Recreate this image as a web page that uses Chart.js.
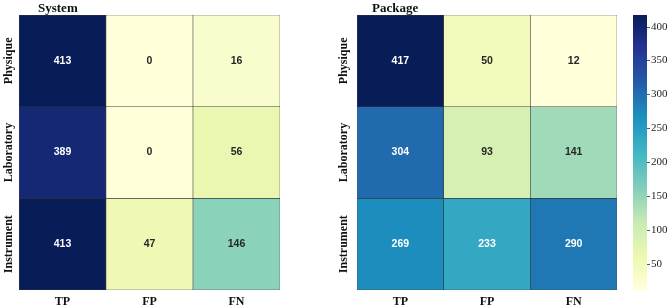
<!DOCTYPE html>
<html>
<head>
<meta charset="utf-8">
<script src="https://cdn.jsdelivr.net/npm/chart.js@4"></script>
<style>
  body { margin: 0; background: #fff; }
  #wrap { position: relative; width: 669px; height: 308px; }
  canvas { position: absolute; top: 0; }
</style>
</head>
<body>
<div id="wrap">
  <canvas id="systemChart" width="300" height="308" style="left:0"></canvas>
  <canvas id="packageChart" width="300" height="308" style="left:330px"></canvas>
  <canvas id="colorbar" width="49" height="308" style="left:620px"></canvas>
</div>
<script>
// categories
var rowLabels = ['Physique', 'Laboratory', 'Instrument'];
var colLabels = ['TP', 'FP', 'FN'];

// counts, one row per category
var systemPhysique = [413, 0, 16];
var systemLaboratory = [389, 0, 56];
var systemInstrument = [413, 47, 146];

var packagePhysique = [417, 50, 12];
var packageLaboratory = [304, 93, 141];
var packageInstrument = [269, 233, 290];

var colorbarTicks = [50, 100, 150, 200, 250, 300, 350, 400];

// YlGnBu
var ylgnbu = ['#ffffd9', '#edf8b1', '#c7e9b4', '#7fcdbb', '#41b6c4', '#1d91c0', '#225ea8', '#253494', '#081d58'];

function hexToRgb(h) {
  return [parseInt(h.substr(1, 2), 16), parseInt(h.substr(3, 2), 16), parseInt(h.substr(5, 2), 16)];
}

function cmapRgb(t) {
  t = Math.max(0, Math.min(1, t));
  var pos = t * (ylgnbu.length - 1);
  var i = Math.min(Math.floor(pos), ylgnbu.length - 2);
  var f = pos - i;
  var a = hexToRgb(ylgnbu[i]), b = hexToRgb(ylgnbu[i + 1]);
  return [0, 1, 2].map(function(k) { return Math.round(a[k] + (b[k] - a[k]) * f); });
}

function cmap(t) {
  var c = cmapRgb(t);
  return 'rgb(' + c[0] + ',' + c[1] + ',' + c[2] + ')';
}

// same rule seaborn uses to pick the annotation colour
function textColor(t) {
  var c = cmapRgb(t).map(function(v) {
    v = v / 255;
    return v <= 0.03928 ? v / 12.92 : Math.pow((v + 0.055) / 1.055, 2.4);
  });
  var lum = 0.2126 * c[0] + 0.7152 * c[1] + 0.0722 * c[2];
  return lum > 0.408 ? 'rgb(38,38,38)' : '#ffffff';
}

function makeHeatmap(canvasId, title, values, opts) {
  var flat = [].concat.apply([], values);
  var vmin = Math.min.apply(null, flat);
  var vmax = Math.max.apply(null, flat);
  var norm = function(v) { return (v - vmin) / (vmax - vmin); };

  var datasets = rowLabels.map(function(r, i) {
    return {
      label: r,
      data: values[i].map(function() { return [i, i + 1]; }),
      backgroundColor: values[i].map(function(v) { return cmap(norm(v)); }),
      borderColor: 'rgba(40,40,40,0.85)',
      borderWidth: 0.6,
      borderSkipped: false,
      barPercentage: 1,
      categoryPercentage: 1,
      grouped: false
    };
  });

  var labelsPlugin = {
    id: 'heatLabels',
    afterDatasetsDraw: function(chart) {
      var ctx = chart.ctx;
      var xs = chart.scales.x, ys = chart.scales.y;
      ctx.save();
      // cell values
      ctx.font = 'bold 10.5px "Liberation Sans", Arial, sans-serif';
      ctx.textAlign = 'center';
      ctx.textBaseline = 'middle';
      values.forEach(function(row, i) {
        row.forEach(function(v, j) {
          ctx.fillStyle = textColor(norm(v));
          ctx.fillText(String(v), xs.getPixelForValue(j), ys.getPixelForValue(i + 0.5));
        });
      });
      // x labels
      ctx.fillStyle = '#111';
      ctx.font = 'bold 12px "Liberation Serif", "Times New Roman", serif';
      colLabels.forEach(function(c, j) {
        ctx.fillText(c, xs.getPixelForValue(j), 302);
      });
      // y labels, rotated
      rowLabels.forEach(function(r, i) {
        ctx.save();
        ctx.translate(opts.ylabelX, ys.getPixelForValue(i + 0.5));
        ctx.rotate(-Math.PI / 2);
        ctx.fillText(r, 0, 0);
        ctx.restore();
      });
      // title
      ctx.font = 'bold 13px "Liberation Serif", "Times New Roman", serif';
      ctx.textAlign = 'left';
      ctx.textBaseline = 'alphabetic';
      ctx.fillText(title, opts.titleX, 12);
      ctx.restore();
    }
  };

  return new Chart(document.getElementById(canvasId).getContext('2d'), {
    type: 'bar',
    data: { labels: colLabels, datasets: datasets },
    options: {
      responsive: false,
      animation: false,
      layout: { padding: opts.padding },
      plugins: { legend: { display: false }, tooltip: { enabled: false } },
      scales: {
        x: { type: 'category', display: false, offset: true, grid: { display: false } },
        y: { type: 'linear', min: 0, max: 3, reverse: true, display: false }
      }
    },
    plugins: [labelsPlugin]
  });
}

makeHeatmap('systemChart', 'System',
  [systemPhysique, systemLaboratory, systemInstrument],
  { padding: { left: 19, right: 20, top: 15, bottom: 18 }, ylabelX: 9, titleX: 38 });

makeHeatmap('packageChart', 'Package',
  [packagePhysique, packageLaboratory, packageInstrument],
  { padding: { left: 27, right: 13, top: 15, bottom: 18 }, ylabelX: 14, titleX: 42 });

// colorbar follows the Package heatmap range
var pkgFlat = packagePhysique.concat(packageLaboratory, packageInstrument);
var cbMin = Math.min.apply(null, pkgFlat);
var cbMax = Math.max.apply(null, pkgFlat);

var colorbarPlugin = {
  id: 'cbTicks',
  afterDatasetsDraw: function(chart) {
    var ctx = chart.ctx;
    var ys = chart.scales.y;
    var right = chart.chartArea.right;
    ctx.save();
    ctx.strokeStyle = '#333';
    ctx.lineWidth = 0.8;
    ctx.fillStyle = '#222';
    ctx.font = '11px "Liberation Serif", "Times New Roman", serif';
    ctx.textAlign = 'left';
    ctx.textBaseline = 'middle';
    colorbarTicks.forEach(function(t) {
      var y = Math.round(ys.getPixelForValue(t)) + 0.5;
      ctx.beginPath();
      ctx.moveTo(right, y);
      ctx.lineTo(right + 3, y);
      ctx.stroke();
      ctx.fillText(String(t), right + 4, y);
    });
    ctx.restore();
  }
};

new Chart(document.getElementById('colorbar').getContext('2d'), {
  type: 'bar',
  data: {
    labels: [''],
    datasets: [{
      data: [[cbMin, cbMax]],
      backgroundColor: function(c) {
        var area = c.chart.chartArea;
        if (!area) return ylgnbu[4];
        var g = c.chart.ctx.createLinearGradient(0, area.bottom, 0, area.top);
        ylgnbu.forEach(function(col, i) { g.addColorStop(i / (ylgnbu.length - 1), col); });
        return g;
      },
      borderWidth: 0,
      barPercentage: 1,
      categoryPercentage: 1
    }]
  },
  options: {
    responsive: false,
    animation: false,
    layout: { padding: { left: 13, right: 22, top: 15, bottom: 18 } },
    plugins: { legend: { display: false }, tooltip: { enabled: false } },
    scales: {
      x: { display: false },
      y: { type: 'linear', min: cbMin, max: cbMax, display: false }
    }
  },
  plugins: [colorbarPlugin]
});
</script>
</body>
</html>
